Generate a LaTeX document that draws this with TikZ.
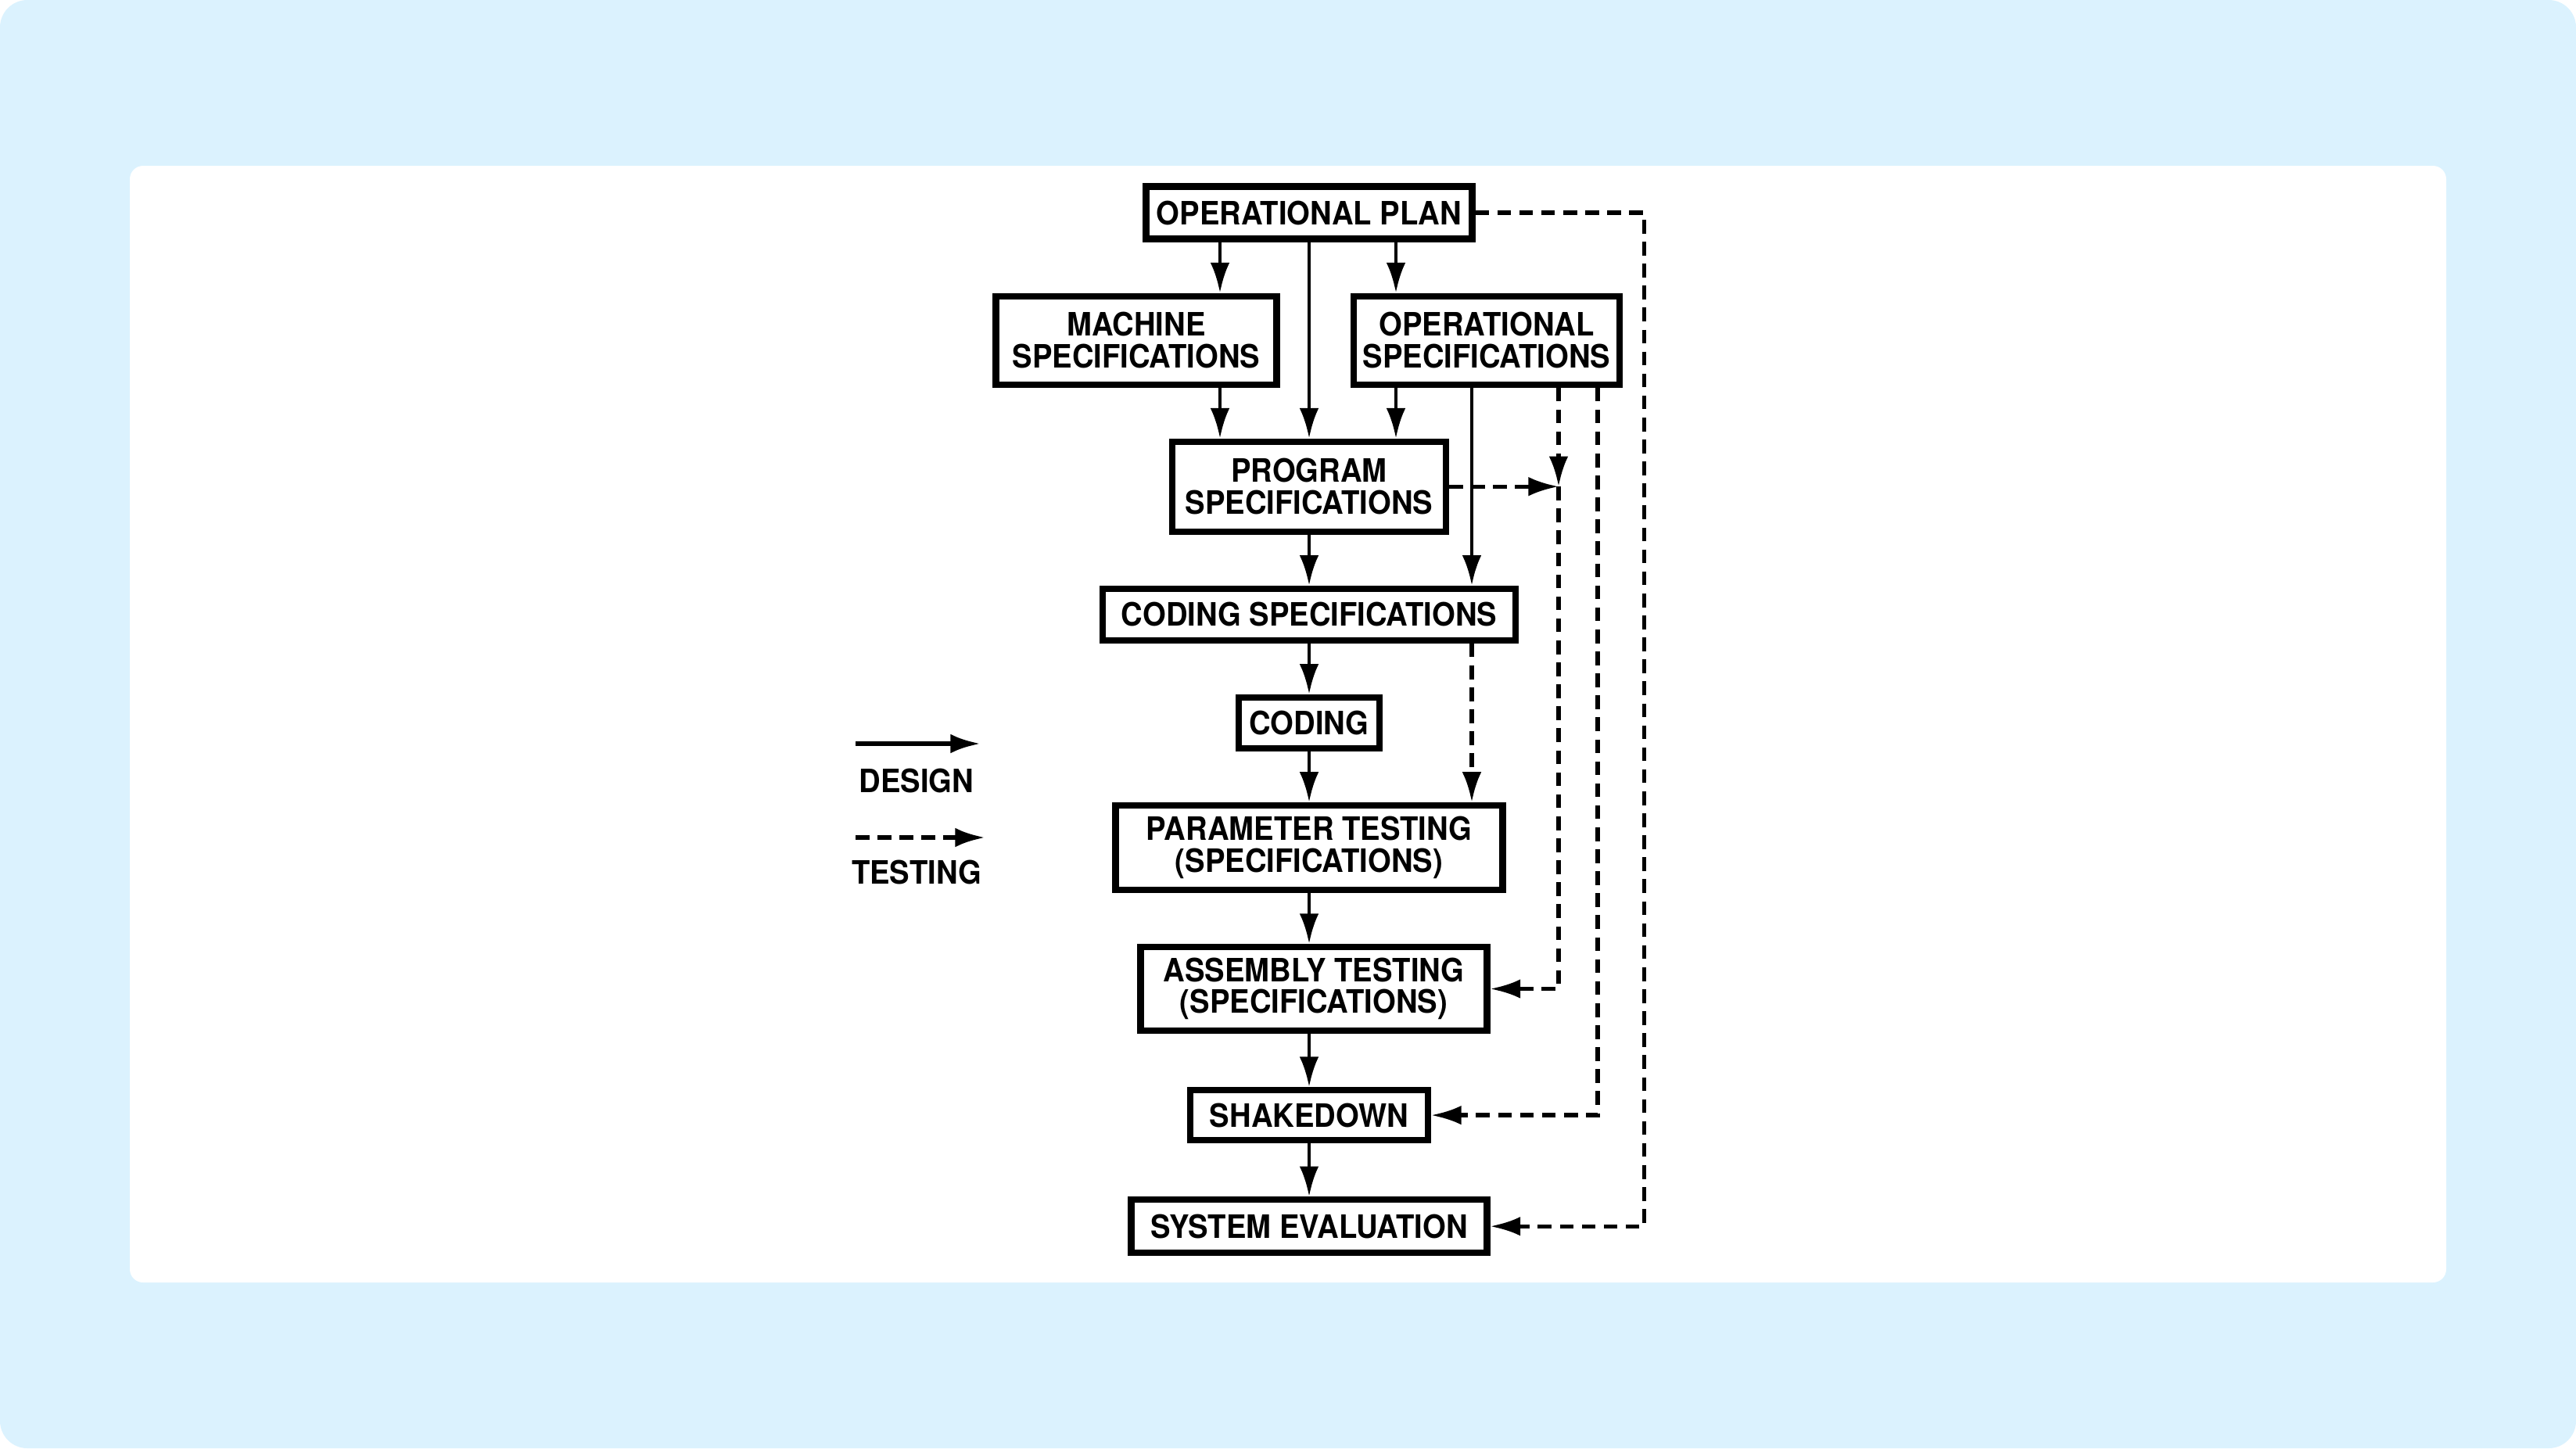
\documentclass[tikz,border=0pt]{standalone}
\usepackage{fontspec}
\setmainfont[FakeStretch=0.93]{TeX Gyre Heros}
\usetikzlibrary{positioning, arrows.meta}
\definecolor{bgblue}{RGB}{219,242,254}

\begin{document}
\begin{tikzpicture}[auto,node distance=6.5mm,>={Latex[length=11pt,width=7pt]},font=\fontsize{11.7}{11.5}\selectfont\bfseries]
	
	\tikzstyle{block}=[draw=black,line width=2.3pt,align=center,inner sep=1pt]
	\tikzstyle{designline}=[line width=1.4pt]
	\tikzstyle{testline}=[line width=1.5pt,dash pattern=on 5pt off 3pt]
	
	% background and panel
	\fill[white] (0,0) rectangle (32.94,-18.52);
	\fill[bgblue,rounded corners=3.5mm] (0,0) rectangle (32.94,-18.52);
	\fill[white,rounded corners=1.7mm] (1.66,-2.12) rectangle (31.28,-16.40);
	
	\node[block,minimum width=4.17cm,minimum height=6.7mm] (oplan) at (16.74,-2.72) {OPERATIONAL PLAN};
	\node[block,minimum width=3.59cm,minimum height=11.3mm,below=of oplan,xshift=-22.1mm] (mach) {MACHINE\\SPECIFICATIONS};
	\node[block,minimum width=3.40cm,minimum height=11.3mm,below=of oplan,xshift=22.7mm] (opspec) {OPERATIONAL\\SPECIFICATIONS};
	\node[block,minimum width=3.50cm,minimum height=11.5mm,below=of mach,xshift=22.1mm] (prog) {PROGRAM\\SPECIFICATIONS};
	\node[block,minimum width=5.28cm,minimum height=6.6mm,below=of prog] (codspec) {CODING SPECIFICATIONS};
	\node[block,minimum width=1.80cm,minimum height=6.5mm,below=of codspec] (coding) {CODING};
	\node[block,minimum width=4.95cm,minimum height=10.8mm,below=of coding] (param) {PARAMETER TESTING\\(SPECIFICATIONS)};
	\node[block,minimum width=4.43cm,minimum height=10.7mm,below=of param,xshift=0.6mm] (assem) {ASSEMBLY TESTING\\(SPECIFICATIONS)};
	\node[block,minimum width=3.04cm,minimum height=6.4mm,below=6.8mm of assem,xshift=-0.6mm] (shake) {SHAKEDOWN};
	\node[block,minimum width=4.55cm,minimum height=6.8mm,below=6.8mm of shake] (syseval) {SYSTEM EVALUATION};
	
	% legend
	\node (lgdesign) at (11.72,-9.98) {DESIGN};
	\node (lgtest) at (11.72,-11.15) {TESTING};
	\coordinate (d0) at (10.94,-9.51);
	\coordinate (d1) at (12.54,-9.51);
	\coordinate (t0) at (10.94,-10.71);
	\coordinate (t1) at (12.60,-10.71);
	\draw[designline,line width=1.8pt,->] (d0) -- (d1);
	\draw[testline,line width=1.8pt,->] (t0) -- (t1);
	
	% columns
	\coordinate (ml) at ([xshift=-11.4mm]oplan.south);
	\coordinate (mr) at ([xshift=11.1mm]oplan.south);
	\coordinate (sa) at ([xshift=-1.9mm]opspec.south);
	\coordinate (sb) at ([xshift=9.2mm]opspec.south);
	\coordinate (sc) at ([xshift=14.2mm]opspec.south);
	\coordinate (pr) at ([xshift=21.6mm]oplan.east);
	\coordinate (jn) at (sb |- prog.east);
	
	% design
	\draw[designline,->] (ml) -- (ml |- mach.north);
	\draw[designline,->] (oplan) -- (prog);
	\draw[designline,->] (mr) -- (mr |- opspec.north);
	\draw[designline,->] (ml |- mach.south) -- (ml |- prog.north);
	\draw[designline,->] (mr |- opspec.south) -- (mr |- prog.north);
	\draw[designline,->] (sa) -- (sa |- codspec.north);
	\draw[designline,->] (prog) -- (codspec);
	\draw[designline,->] (codspec) -- (coding);
	\draw[designline,->] (coding) -- (param);
	\draw[designline,->] (param.south) -- (param.south |- assem.north);
	\draw[designline,->] (shake.north |- assem.south) -- (shake.north);
	\draw[designline,->] (shake) -- (syseval);
	
	% testing
	\draw[testline,->] (sb) -- (jn);
	\draw[testline,->] (prog.east) -- (jn);
	\draw[testline,->] (jn) -- (jn |- assem.east) -- (assem.east);
	\draw[testline,->] (sc) -- (sc |- shake.east) -- (shake.east);
	\draw[testline,->] (oplan.east) -- (pr) -- (pr |- syseval.east) -- (syseval.east);
	\draw[testline,->] (sa |- codspec.south) -- (sa |- param.north);
\end{tikzpicture}
\end{document}
